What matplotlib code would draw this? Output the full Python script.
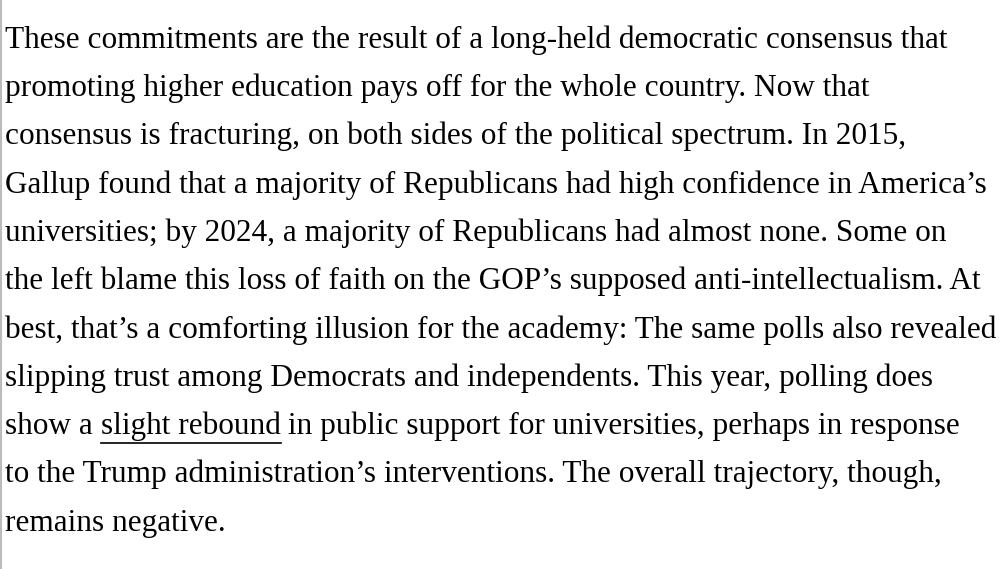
import matplotlib
matplotlib.use("Agg")
import matplotlib.pyplot as plt

lines = [
    "These commitments are the result of a long-held democratic consensus that",
    "promoting higher education pays off for the whole country. Now that",
    "consensus is fracturing, on both sides of the political spectrum. In 2015,",
    "Gallup found that a majority of Republicans had high confidence in America\u2019s",
    "universities; by 2024, a majority of Republicans had almost none. Some on",
    "the left blame this loss of faith on the GOP\u2019s supposed anti-intellectualism. At",
    "best, that\u2019s a comforting illusion for the academy: The same polls also revealed",
    "slipping trust among Democrats and independents. This year, polling does",
    None,
    "to the Trump administration\u2019s interventions. The overall trajectory, though,",
    "remains negative.",
]
line10 = ["show a ", "slight rebound", " in public support for universities, perhaps in response"]

W, H = 1000, 569
fig = plt.figure(figsize=(W/100, H/100), dpi=100)
fig.patch.set_facecolor("white")
fs = 22.5
font = dict(family="Liberation Serif", fontsize=fs, color="#000000")
y0, dy = 40, 48.3
fig.canvas.draw()
r = fig.canvas.get_renderer()
for i, t in enumerate(lines):
    y = 1 - (y0 + i*dy)/H
    if t is not None:
        fig.text(5/W, y, t, va="center", ha="left", **font)
    else:
        x = 5
        for j, part in enumerate(line10):
            tx = fig.text(x/W, y, part, va="center", ha="left", **font)
            bb = tx.get_window_extent(renderer=r)
            if j == 1:
                uy = y - 17/H
                fig.add_artist(plt.Line2D([bb.x0/W, bb.x1/W], [uy, uy], color="#000000", lw=1.2))
            x = bb.x1
fig.add_artist(plt.Line2D([1/W, 1/W], [0, 1], color="#bbbbbb", lw=1.5))
fig.savefig("out.png", dpi=100, facecolor="white")
